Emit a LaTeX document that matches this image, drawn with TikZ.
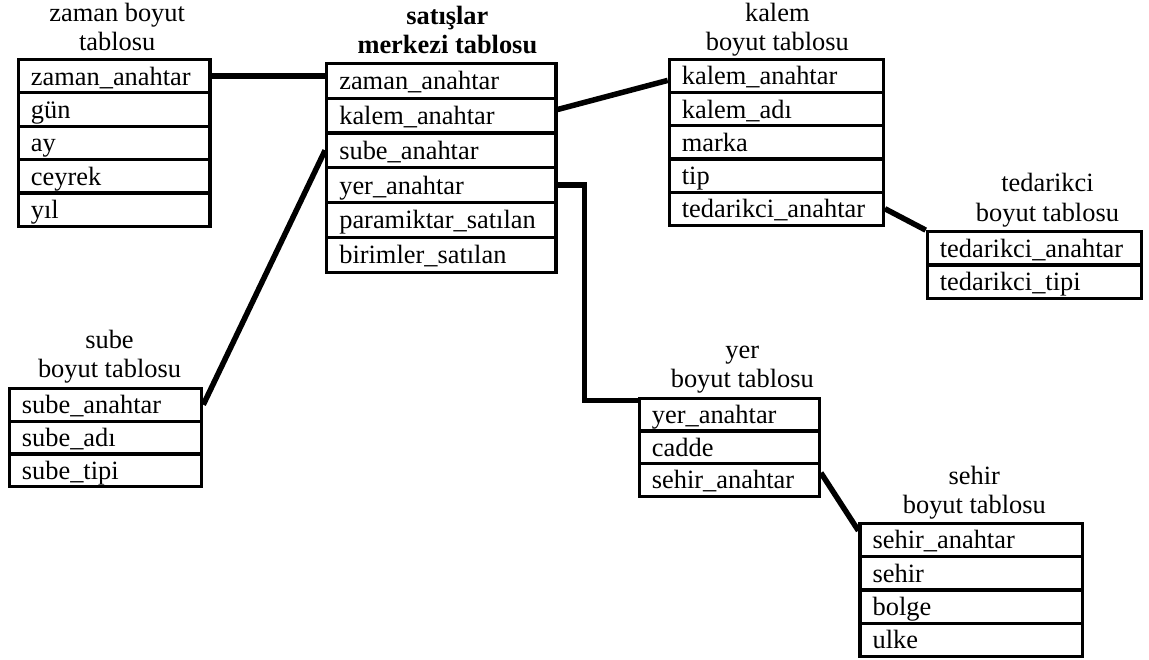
\documentclass[tikz,border=0pt]{standalone}
\usepackage{fontspec}
\setmainfont{Liberation Serif}
\newcommand\txtfont{\fontsize{26.4pt}{29.5pt}\selectfont}
% one table: #1 name prefix, #2 left x, #3 top y, #4 width, #5 row height, #6 rows
\newcommand\dimtable[6]{%
  \foreach \txt [count=\i] in {#6}{%
    \node[cell, minimum width=#4pt, minimum height=#5pt] (#1\i)
      at ({#2+#4/2}, {#3+(\i-0.5)*#5}) {};
    \node[celltext] at ([xshift=14pt,yshift=-9pt]#1\i.west) {\txt};
  }%
}
\tikzset{
  cell/.style={draw, line width=3.2pt, inner sep=0pt},
  celltext/.style={anchor=base west, inner sep=0pt, font=\txtfont},
  ttl/.style={anchor=base, inner sep=0pt, font=\txtfont},
  link/.style={line width=5.5pt},
}
\begin{document}
\begin{tikzpicture}[x=1pt,y=-1pt]
\useasboundingbox (0,0) rectangle (1149,659);

% fact table
\dimtable{c}{326.7}{63.3}{229.3}{34.8}{zaman\_anahtar,kalem\_anahtar,sube\_anahtar,yer\_anahtar,paramiktar\_satılan,birimler\_satılan}
\node[ttl] at ([xshift=6pt,yshift=8pt]c1.north)
  {\bfseries\begin{tabular}[b]{@{}c@{}}satışlar\\merkezi tablosu\end{tabular}};

% dimension tables
\dimtable{z}{18.3}{59.3}{191.7}{33.4}{zaman\_anahtar,gün,ay,ceyrek,yıl}
\node[ttl] at ([xshift=3pt,yshift=7pt]z1.north)
  {\begin{tabular}[b]{@{}c@{}}zaman boyut\\tablosu\end{tabular}};

\dimtable{k}{669.3}{59.3}{214}{33.2}{kalem\_anahtar,kalem\_adı,marka,tip,tedarikci\_anahtar}
\node[ttl] at ([xshift=1pt,yshift=7pt]k1.north)
  {\begin{tabular}[b]{@{}c@{}}kalem\\boyut tablosu\end{tabular}};

\dimtable{t}{927.3}{231.7}{214.3}{33.3}{tedarikci\_anahtar,tedarikci\_tipi}
\node[ttl] at ([xshift=13pt,yshift=9pt]t1.north)
  {\begin{tabular}[b]{@{}c@{}}tedarikci\\boyut tablosu\end{tabular}};

\dimtable{s}{9.3}{388.3}{192.4}{32.8}{sube\_anahtar,sube\_adı,sube\_tipi}
\node[ttl] at ([xshift=4pt,yshift=9pt]s1.north)
  {\begin{tabular}[b]{@{}c@{}}sube\\boyut tablosu\end{tabular}};

\dimtable{y}{639.3}{398.3}{180}{32.6}{yer\_anahtar,cadde,sehir\_anahtar}
\node[ttl] at ([xshift=13pt,yshift=9pt]y1.north)
  {\begin{tabular}[b]{@{}c@{}}yer\\boyut tablosu\end{tabular}};

\dimtable{h}{860}{523.3}{222.7}{33.3}{sehir\_anahtar,sehir,bolge,ulke}
\node[ttl] at ([xshift=3pt,yshift=8pt]h1.north)
  {\begin{tabular}[b]{@{}c@{}}sehir\\boyut tablosu\end{tabular}};

% key links
\draw[link] (z1.east) -- (z1.east -| c1.west);
\draw[link] ([yshift=6pt]c2.east) -- ([yshift=-4.5pt]k1.west);
\draw[link] (c3.west) -- (s1.east);
\draw[link] (c4.east) -- ++(27,0) |- ([yshift=-4pt]y1.north west);
\draw[link] (k5.east) -- (t1.north west);
\draw[link] ([yshift=7pt]y3.east) -- ([yshift=-9pt]h1.north west);
\end{tikzpicture}
\end{document}
